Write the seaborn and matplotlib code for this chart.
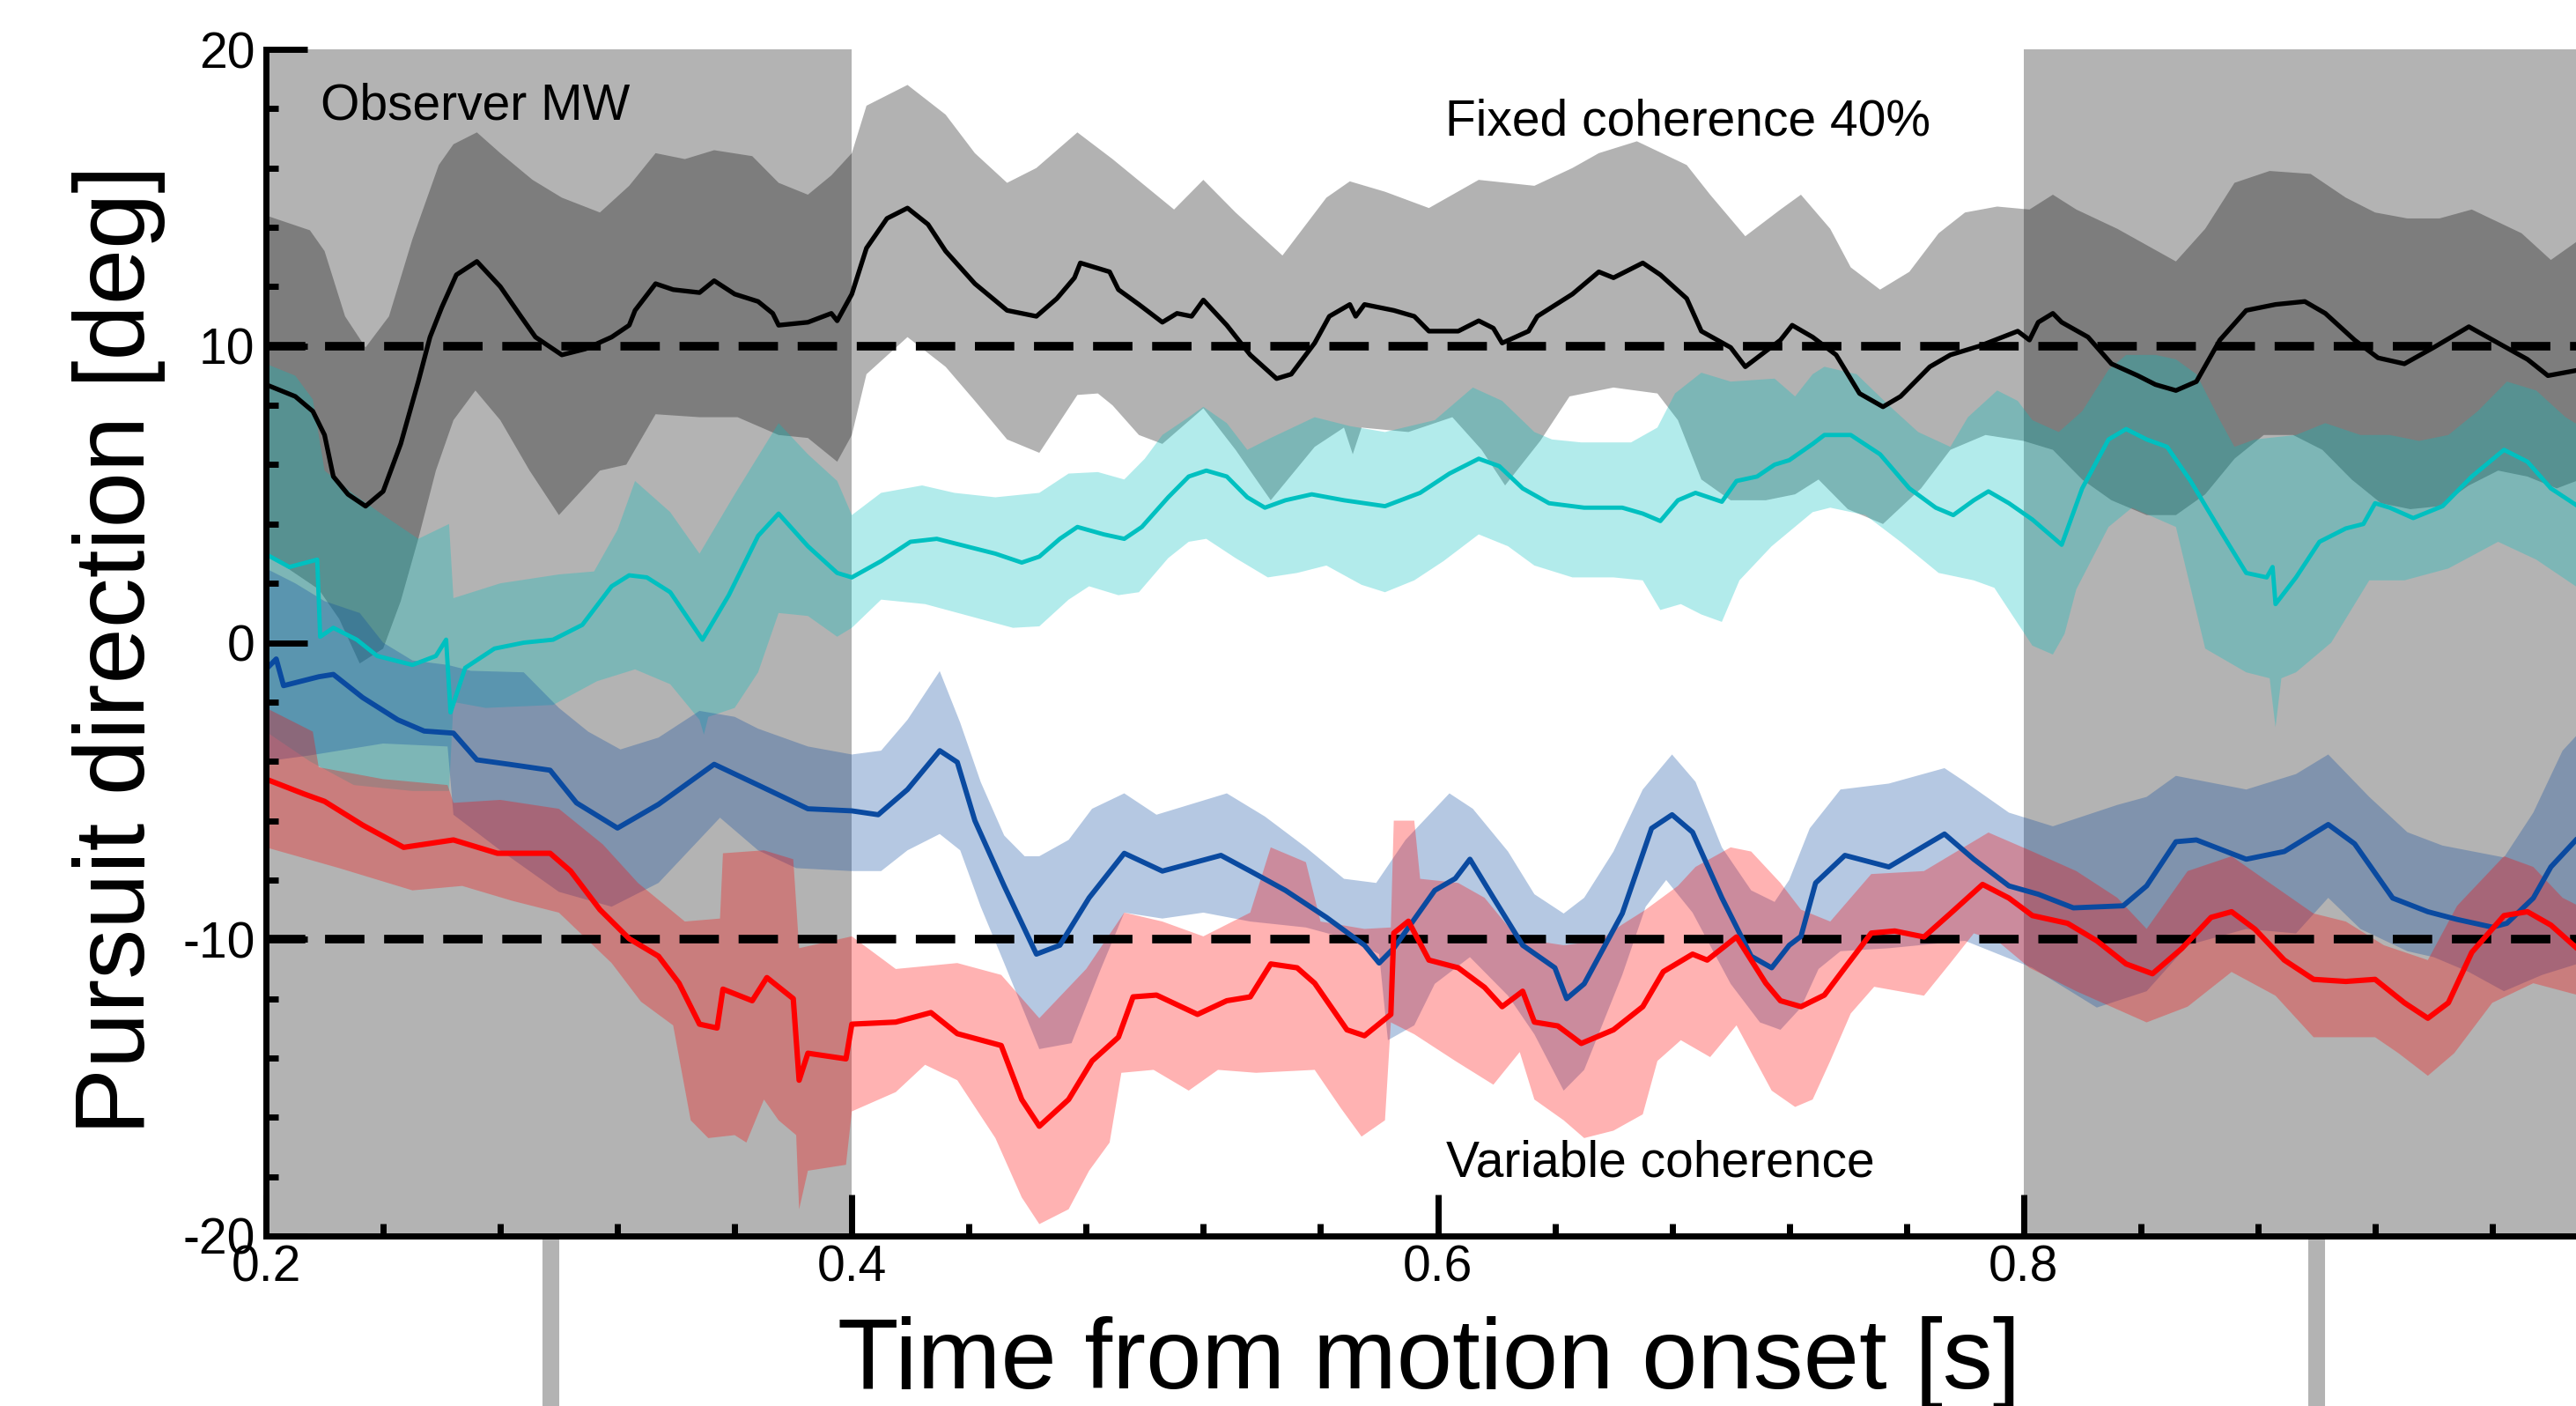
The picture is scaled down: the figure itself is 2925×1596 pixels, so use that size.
import numpy as np
import matplotlib
matplotlib.use("Agg")
import matplotlib.pyplot as plt
from matplotlib.ticker import MultipleLocator, FixedLocator
import seaborn as sns

# ---------------- data ----------------
# Fixed coherence 40% (black): mean and band edges
black_t = [0.200, 0.210, 0.216, 0.220, 0.223, 0.228, 0.234, 0.240, 0.246, 0.252, 0.256, 0.260,
           0.265, 0.272, 0.280, 0.287, 0.292, 0.301, 0.309, 0.318, 0.324, 0.326, 0.333, 0.339,
           0.348, 0.353, 0.360, 0.368, 0.373, 0.375, 0.385, 0.393, 0.395, 0.400, 0.405, 0.412,
           0.419, 0.426, 0.432, 0.442, 0.453, 0.463, 0.470, 0.476, 0.478, 0.488, 0.491, 0.498,
           0.506, 0.511, 0.516, 0.520, 0.528, 0.536, 0.545, 0.550, 0.558, 0.563, 0.570, 0.572,
           0.575, 0.585, 0.592, 0.597, 0.607, 0.614, 0.619, 0.622, 0.631, 0.634, 0.646, 0.655,
           0.660, 0.670, 0.676, 0.685, 0.690, 0.700, 0.705, 0.717, 0.721, 0.728, 0.736, 0.744,
           0.752, 0.758, 0.768, 0.775, 0.785, 0.798, 0.802, 0.805, 0.810, 0.813, 0.822, 0.830,
           0.839, 0.845, 0.852, 0.859, 0.867, 0.876, 0.886, 0.896, 0.903, 0.913, 0.921, 0.930,
           0.940, 0.952, 0.962, 0.972, 0.979, 0.990]
black_mean = [8.7, 8.3, 7.8, 7.0, 5.6, 5.0, 4.6, 5.1, 6.7, 8.8, 10.3, 11.3,
              12.4, 12.85, 12.0, 11.0, 10.3, 9.7, 9.9, 10.3, 10.7, 11.2, 12.1, 11.9,
              11.8, 12.2, 11.75, 11.5, 11.1, 10.7, 10.8, 11.1, 10.85, 11.75, 13.3, 14.3,
              14.65, 14.1, 13.2, 12.1, 11.2, 11.0, 11.6, 12.3, 12.8, 12.5, 11.9, 11.4,
              10.8, 11.1, 11.0, 11.55, 10.7, 9.7, 8.9, 9.05, 10.1, 11.0, 11.4, 11.0,
              11.4, 11.2, 11.0, 10.5, 10.5, 10.85, 10.6, 10.1, 10.5, 11.0, 11.75, 12.5,
              12.3, 12.8, 12.4, 11.6, 10.5, 9.95, 9.3, 10.2, 10.7, 10.3, 9.7, 8.4,
              7.95, 8.3, 9.3, 9.7, 10.0, 10.5, 10.2, 10.8, 11.1, 10.8, 10.3, 9.4,
              9.0, 8.7, 8.5, 8.8, 10.2, 11.2, 11.4, 11.5, 11.1, 10.2, 9.6, 9.4,
              9.95, 10.65, 10.1, 9.55, 9.0, 9.2]
black_hi_t = [0.200, 0.215, 0.220, 0.227, 0.234, 0.242, 0.250, 0.259, 0.264, 0.272, 0.280, 0.291,
              0.301, 0.314, 0.324, 0.333, 0.343, 0.353, 0.366, 0.375, 0.385, 0.393, 0.400, 0.405,
              0.419, 0.432, 0.442, 0.453, 0.463, 0.477, 0.489, 0.510, 0.520, 0.531, 0.547, 0.562,
              0.570, 0.582, 0.597, 0.614, 0.633, 0.646, 0.655, 0.668, 0.685, 0.693, 0.705, 0.717,
              0.724, 0.734, 0.741, 0.751, 0.761, 0.771, 0.780, 0.791, 0.802, 0.810, 0.818, 0.832,
              0.842, 0.852, 0.862, 0.872, 0.884, 0.898, 0.910, 0.920, 0.931, 0.942, 0.953, 0.970,
              0.980, 0.990]
black_hi = [14.4, 13.9, 13.2, 11.0, 9.95, 11.0, 13.6, 16.1, 16.8, 17.2, 16.5, 15.6,
            15.0, 14.5, 15.4, 16.5, 16.3, 16.6, 16.4, 15.5, 15.1, 15.75, 16.5, 18.1,
            18.8, 17.8, 16.5, 15.5, 16.0, 17.2, 16.3, 14.6, 15.6, 14.5, 13.05, 15.0,
            15.55, 15.2, 14.65, 15.6, 15.4, 16.0, 16.5, 16.9, 16.1, 15.1, 13.7, 14.6,
            15.1, 13.95, 12.65, 11.9, 12.5, 13.8, 14.5, 14.7, 14.6, 15.1, 14.6, 13.95,
            13.4, 12.85, 13.95, 15.5, 15.9, 15.8, 15.0, 14.5, 14.3, 14.3, 14.6, 13.8,
            12.9, 13.6]
black_lo_t = [0.200, 0.218, 0.225, 0.232, 0.240, 0.246, 0.252, 0.258, 0.264, 0.2715, 0.280, 0.290,
              0.300, 0.314, 0.323, 0.333, 0.348, 0.361, 0.375, 0.385, 0.395, 0.400, 0.405, 0.419,
              0.432, 0.442, 0.453, 0.464, 0.477, 0.484, 0.489, 0.498, 0.506, 0.520, 0.531, 0.543,
              0.558, 0.568, 0.571, 0.574, 0.590, 0.605, 0.615, 0.623, 0.635, 0.645, 0.660, 0.675,
              0.682, 0.690, 0.700, 0.712, 0.722, 0.730, 0.740, 0.752, 0.765, 0.775, 0.787, 0.800,
              0.810, 0.820, 0.830, 0.842, 0.852, 0.862, 0.872, 0.882, 0.892, 0.902, 0.912, 0.922,
              0.932, 0.942, 0.952, 0.962, 0.972, 0.982, 0.990]
black_lo = [3.0, 1.8, 0.8, -0.7, -0.2, 1.4, 3.5, 5.8, 7.5, 8.5, 7.5, 5.8,
            4.3, 5.8, 6.0, 7.7, 7.6, 7.6, 7.0, 6.9, 6.1, 7.0, 9.05, 10.3,
            9.3, 8.15, 6.85, 6.4, 8.35, 8.4, 8.0, 7.0, 6.7, 7.9, 6.5, 4.8,
            6.6, 7.25, 6.35, 7.25, 7.1, 7.6, 6.5, 5.3, 6.8, 8.3, 8.6, 8.4,
            7.5, 5.5, 4.8, 4.8, 5.0, 5.5, 4.5, 4.0, 5.2, 6.5, 7.0, 6.8,
            6.5, 5.5, 4.8, 4.3, 4.3, 5.0, 6.2, 7.0, 7.0, 6.5, 5.5, 4.7,
            4.5, 4.6, 5.3, 5.8, 5.6, 5.2, 5.5]

# Variable coherence, first condition (cyan)
cyan_t = [0.200, 0.208, 0.2175, 0.2185, 0.223, 0.231, 0.238, 0.250, 0.258, 0.2615, 0.263, 0.268,
          0.278, 0.288, 0.298, 0.308, 0.318, 0.324, 0.330, 0.338, 0.349, 0.358, 0.368, 0.375,
          0.385, 0.395, 0.400, 0.410, 0.420, 0.429, 0.439, 0.449, 0.458, 0.464, 0.471, 0.477,
          0.486, 0.493, 0.499, 0.508, 0.515, 0.521, 0.528, 0.535, 0.541, 0.548, 0.557, 0.568,
          0.582, 0.594, 0.604, 0.614, 0.621, 0.629, 0.638, 0.650, 0.663, 0.670, 0.676, 0.682,
          0.688, 0.697, 0.702, 0.709, 0.715, 0.720, 0.728, 0.732, 0.741, 0.751, 0.761, 0.770,
          0.776, 0.783, 0.788, 0.795, 0.803, 0.813, 0.820, 0.829, 0.835, 0.842, 0.849, 0.857,
          0.867, 0.876, 0.883, 0.885, 0.886, 0.893, 0.901, 0.910, 0.916, 0.920, 0.925, 0.933,
          0.943, 0.953, 0.964, 0.972, 0.980, 0.990]
cyan_mean = [2.98, 2.55, 2.8, 0.2, 0.5, 0.1, -0.45, -0.75, -0.45, 0.1, -2.35, -0.85,
             -0.2, 0.0, 0.1, 0.6, 1.9, 2.27, 2.2, 1.7, 0.1, 1.6, 3.6, 4.35,
             3.25, 2.35, 2.2, 2.75, 3.4, 3.5, 3.25, 3.0, 2.7, 2.9, 3.5, 3.9,
             3.65, 3.5, 3.9, 4.9, 5.6, 5.8, 5.6, 4.9, 4.55, 4.8, 5.0, 4.8,
             4.6, 5.05, 5.7, 6.2, 5.95, 5.2, 4.7, 4.55, 4.55, 4.35, 4.1, 4.8,
             5.05, 4.75, 5.45, 5.6, 6.0, 6.15, 6.7, 7.0, 7.0, 6.35, 5.2, 4.55,
             4.3, 4.8, 5.1, 4.7, 4.15, 3.3, 5.2, 6.85, 7.2, 6.85, 6.6, 5.45,
             3.8, 2.35, 2.2, 2.55, 1.3, 2.2, 3.4, 3.85, 4.0, 4.7, 4.55, 4.2,
             4.6, 5.6, 6.5, 6.1, 5.2, 4.55]
cyan_hi_t = [0.200, 0.210, 0.216, 0.220, 0.230, 0.240, 0.252, 0.2625, 0.264, 0.280, 0.300, 0.312,
             0.320, 0.326, 0.338, 0.348, 0.360, 0.375, 0.385, 0.395, 0.400, 0.410, 0.424, 0.435,
             0.449, 0.464, 0.474, 0.484, 0.493, 0.500, 0.506, 0.515, 0.520, 0.528, 0.535, 0.543,
             0.558, 0.570, 0.582, 0.599, 0.612, 0.622, 0.633, 0.639, 0.649, 0.666, 0.675, 0.681,
             0.690, 0.700, 0.715, 0.722, 0.728, 0.732, 0.743, 0.754, 0.764, 0.775, 0.781, 0.791,
             0.798, 0.803, 0.812, 0.820, 0.829, 0.835, 0.845, 0.852, 0.859, 0.867, 0.872, 0.879,
             0.893, 0.903, 0.915, 0.925, 0.935, 0.945, 0.955, 0.965, 0.975, 0.985, 0.990]
cyan_hi = [9.4, 9.0, 8.2, 5.8, 5.0, 4.3, 3.5, 4.0, 1.5, 2.0, 2.3, 2.4,
           3.8, 5.45, 4.4, 3.0, 5.0, 7.4, 6.35, 5.45, 4.3, 5.05, 5.3, 5.05,
           4.9, 5.05, 5.7, 5.75, 5.5, 6.2, 7.0, 7.6, 7.95, 7.4, 6.5, 6.9,
           7.6, 7.3, 7.1, 7.5, 8.6, 8.15, 7.1, 6.85, 6.75, 6.75, 7.25, 8.4,
           9.1, 8.8, 8.9, 8.3, 9.05, 9.3, 9.05, 8.0, 7.1, 6.6, 7.6, 8.5,
           8.15, 7.5, 7.1, 7.8, 9.2, 9.7, 9.7, 9.55, 9.05, 7.5, 6.6, 6.85,
           7.0, 7.4, 7.0, 7.0, 6.8, 7.0, 7.8, 8.8, 8.5, 7.6, 7.3]
cyan_lo_t = [0.200, 0.215, 0.230, 0.250, 0.2625, 0.264, 0.275, 0.298, 0.313, 0.326, 0.338, 0.348,
             0.3495, 0.351, 0.360, 0.368, 0.375, 0.385, 0.395, 0.400, 0.410, 0.425, 0.440, 0.455,
             0.464, 0.474, 0.481, 0.491, 0.498, 0.508, 0.515, 0.521, 0.531, 0.542, 0.552, 0.562,
             0.574, 0.582, 0.592, 0.602, 0.614, 0.624, 0.633, 0.646, 0.660, 0.670, 0.676, 0.683,
             0.690, 0.697, 0.703, 0.714, 0.728, 0.734, 0.746, 0.758, 0.771, 0.783, 0.790, 0.797,
             0.803, 0.810, 0.814, 0.818, 0.829, 0.837, 0.852, 0.862, 0.876, 0.884, 0.886, 0.888,
             0.893, 0.905, 0.918, 0.930, 0.945, 0.962, 0.975, 0.990]
cyan_lo = [-3.0, -4.0, -4.8, -5.0, -5.0, -2.0, -2.2, -2.1, -1.3, -0.9, -1.4, -2.6,
           -3.1, -2.5, -2.2, -1.0, 1.0, 0.9, 0.2, 0.5, 1.45, 1.3, 0.9, 0.5,
           0.55, 1.45, 1.9, 1.6, 1.7, 2.85, 3.4, 3.5, 2.85, 2.2, 2.35, 2.6,
           1.95, 1.7, 2.1, 2.75, 3.65, 3.25, 2.6, 2.2, 2.2, 2.1, 1.1, 1.3,
           0.95, 0.7, 2.1, 3.25, 4.4, 4.55, 4.3, 3.4, 2.35, 2.1, 1.85, 0.8,
           -0.1, -0.4, 0.3, 1.8, 3.9, 4.55, 3.9, -0.2, -1.0, -1.2, -2.85, -1.2,
           -1.0, 0.0, 2.1, 2.1, 2.5, 3.4, 2.8, 1.8]

# Variable coherence, second condition (blue)
blue_t = [0.200, 0.2035, 0.206, 0.218, 0.223, 0.233, 0.245, 0.254, 0.264, 0.272, 0.283, 0.297,
          0.306, 0.320, 0.334, 0.353, 0.368, 0.385, 0.400, 0.409, 0.419, 0.430, 0.436, 0.442,
          0.452, 0.463, 0.471, 0.481, 0.493, 0.506, 0.526, 0.536, 0.548, 0.562, 0.575, 0.580,
          0.585, 0.599, 0.606, 0.611, 0.619, 0.629, 0.640, 0.644, 0.650, 0.663, 0.673, 0.680,
          0.687, 0.697, 0.707, 0.714, 0.720, 0.724, 0.729, 0.739, 0.754, 0.773, 0.783, 0.795,
          0.805, 0.817, 0.834, 0.842, 0.852, 0.859, 0.876, 0.889, 0.904, 0.913, 0.926, 0.938,
          0.948, 0.960, 0.965, 0.974, 0.980, 0.990]
blue_mean = [-0.9, -0.55, -1.45, -1.15, -1.07, -1.85, -2.6, -2.98, -3.05, -3.95, -4.1, -4.3,
             -5.4, -6.25, -5.45, -4.1, -4.8, -5.6, -5.67, -5.8, -4.95, -3.64, -4.03, -6.0,
             -8.2, -10.5, -10.2, -8.6, -7.1, -7.7, -7.17, -7.7, -8.35, -9.26, -10.2, -10.8,
             -10.3, -8.35, -7.95, -7.3, -8.6, -10.2, -10.96, -12.0, -11.5, -9.13, -6.26, -5.8,
             -6.39, -8.6, -10.57, -10.96, -10.2, -9.9, -8.1, -7.17, -7.56, -6.45, -7.3, -8.2,
             -8.48, -8.94, -8.87, -8.2, -6.71, -6.65, -7.3, -7.04, -6.13, -6.78, -8.61, -9.07,
             -9.33, -9.59, -9.46, -8.61, -7.56, -6.5]
blue_hi_t = [0.200, 0.210, 0.220, 0.232, 0.240, 0.250, 0.262, 0.270, 0.288, 0.300, 0.310, 0.321,
             0.334, 0.348, 0.360, 0.368, 0.385, 0.400, 0.410, 0.419, 0.430, 0.437, 0.444, 0.452,
             0.459, 0.464, 0.474, 0.482, 0.493, 0.504, 0.515, 0.528, 0.541, 0.555, 0.568, 0.579,
             0.589, 0.604, 0.612, 0.624, 0.633, 0.643, 0.650, 0.660, 0.670, 0.680, 0.688, 0.697,
             0.707, 0.715, 0.720, 0.727, 0.7375, 0.754, 0.773, 0.780, 0.795, 0.810, 0.832, 0.842,
             0.852, 0.876, 0.893, 0.904, 0.918, 0.931, 0.943, 0.964, 0.974, 0.984, 0.990]
blue_hi = [2.5, 2.0, 1.4, 1.0, 0.0, -0.6, -0.75, -0.95, -1.0, -2.2, -3.0, -3.6,
           -3.2, -2.3, -2.5, -2.9, -3.5, -3.77, -3.64, -2.6, -0.96, -2.7, -4.7, -6.5,
           -7.2, -7.2, -6.65, -5.6, -5.08, -5.8, -5.47, -5.08, -5.86, -6.9, -7.96, -8.1,
           -6.65, -5.08, -5.6, -7.04, -8.48, -9.13, -8.6, -7.04, -4.95, -3.77, -4.69, -6.9,
           -8.35, -8.74, -8.0, -6.26, -4.95, -4.75, -4.23, -4.69, -5.73, -6.19, -5.47, -5.2,
           -4.49, -4.95, -4.43, -3.77, -5.2, -6.39, -6.84, -7.24, -5.73, -3.64, -3.0]
blue_lo_t = [0.200, 0.215, 0.240, 0.262, 0.264, 0.280, 0.300, 0.318, 0.334, 0.355, 0.368, 0.381,
             0.400, 0.410, 0.419, 0.430, 0.437, 0.444, 0.452, 0.464, 0.475, 0.485, 0.493, 0.506,
             0.520, 0.536, 0.555, 0.570, 0.580, 0.583, 0.592, 0.599, 0.611, 0.624, 0.633, 0.643,
             0.650, 0.663, 0.671, 0.678, 0.687, 0.700, 0.710, 0.717, 0.724, 0.730, 0.7375, 0.754,
             0.780, 0.803, 0.825, 0.842, 0.856, 0.876, 0.893, 0.904, 0.915, 0.931, 0.940, 0.952,
             0.964, 0.977, 0.990]
blue_lo = [-4.0, -3.8, -3.4, -3.5, -5.8, -7.0, -8.4, -8.9, -8.1, -5.9, -7.0, -7.6,
           -7.7, -7.7, -7.0, -6.45, -7.0, -8.9, -10.8, -13.7, -13.5, -11.0, -9.1, -9.3,
           -9.1, -9.4, -9.6, -10.0, -10.5, -13.4, -12.9, -11.5, -10.6, -11.9, -13.2, -15.1,
           -14.4, -11.2, -8.9, -8.0, -9.1, -11.5, -12.8, -13.05, -12.3, -11.0, -10.4, -10.3,
           -10.05, -10.96, -12.3, -11.75, -10.2, -9.65, -9.8, -8.6, -9.65, -10.4, -10.6, -11.1,
           -11.75, -11.2, -10.8]

# Variable coherence, third condition (red)
red_t = [0.200, 0.213, 0.220, 0.233, 0.247, 0.264, 0.279, 0.297, 0.304, 0.314, 0.324, 0.334,
         0.341, 0.348, 0.354, 0.356, 0.366, 0.371, 0.380, 0.382, 0.385, 0.398, 0.400, 0.415,
         0.427, 0.436, 0.451, 0.458, 0.464, 0.474, 0.482, 0.491, 0.496, 0.504, 0.518, 0.528,
         0.536, 0.543, 0.552, 0.558, 0.569, 0.575, 0.584, 0.585, 0.590, 0.597, 0.607, 0.616,
         0.622, 0.629, 0.633, 0.641, 0.649, 0.660, 0.670, 0.677, 0.687, 0.692, 0.702, 0.712,
         0.717, 0.724, 0.732, 0.739, 0.748, 0.756, 0.766, 0.775, 0.786, 0.795, 0.803, 0.815,
         0.825, 0.835, 0.844, 0.854, 0.864, 0.871, 0.879, 0.889, 0.899, 0.910, 0.920, 0.930,
         0.938, 0.945, 0.953, 0.964, 0.972, 0.980, 0.990]
red_mean = [-4.6, -5.1, -5.35, -6.15, -6.9, -6.65, -7.1, -7.1, -7.7, -9.0, -9.98, -10.57,
            -11.48, -12.86, -12.99, -11.68, -12.07, -11.29, -12.0, -14.75, -13.84, -14.03, -12.86, -12.79,
            -12.47, -13.18, -13.58, -15.4, -16.3, -15.4, -14.1, -13.3, -11.94, -11.88, -12.53, -12.07,
            -11.94, -10.83, -10.96, -11.48, -13.05, -13.25, -12.53, -9.79, -9.39, -10.7, -10.96, -11.62,
            -12.27, -11.75, -12.79, -12.92, -13.51, -13.05, -12.27, -11.09, -10.5, -10.7, -9.92, -11.48,
            -12.07, -12.27, -11.88, -10.96, -9.79, -9.72, -9.92, -9.13, -8.15, -8.61, -9.2, -9.46,
            -10.05, -10.83, -11.16, -10.31, -9.26, -9.07, -9.66, -10.7, -11.35, -11.42, -11.35, -12.14,
            -12.66, -12.14, -10.44, -9.2, -9.07, -9.52, -10.4]
red_hi_t = [0.200, 0.216, 0.218, 0.240, 0.262, 0.264, 0.280, 0.300, 0.315, 0.327, 0.343, 0.355,
            0.356, 0.370, 0.380, 0.382, 0.400, 0.415, 0.436, 0.451, 0.464, 0.480, 0.493, 0.506,
            0.520, 0.536, 0.543, 0.555, 0.560, 0.575, 0.584, 0.585, 0.592, 0.594, 0.607, 0.616,
            0.626, 0.633, 0.643, 0.655, 0.663, 0.671, 0.682, 0.688, 0.700, 0.707, 0.717, 0.724,
            0.734, 0.748, 0.766, 0.788, 0.803, 0.818, 0.832, 0.842, 0.856, 0.871, 0.884, 0.899,
            0.910, 0.923, 0.938, 0.948, 0.964, 0.974, 0.984, 0.990]
red_hi = [-2.2, -3.0, -4.2, -4.6, -4.8, -5.4, -5.3, -5.6, -6.8, -8.1, -9.4, -9.3,
          -7.1, -7.0, -7.3, -10.3, -9.9, -11.0, -10.8, -11.2, -12.66, -11.0, -9.1, -9.4,
          -9.9, -9.1, -6.9, -7.4, -9.4, -9.65, -9.6, -6.0, -6.0, -7.96, -8.1, -8.6,
          -9.8, -10.05, -10.2, -10.05, -9.5, -9.0, -8.2, -7.56, -6.9, -7.04, -8.1, -9.0,
          -9.4, -7.8, -7.7, -6.4, -7.04, -7.7, -8.6, -9.65, -7.7, -7.2, -8.1, -9.13,
          -9.4, -10.2, -10.7, -8.87, -7.2, -7.56, -8.6, -8.9]
red_lo_t = [0.200, 0.225, 0.250, 0.267, 0.284, 0.300, 0.318, 0.328, 0.339, 0.345, 0.351, 0.360,
            0.364, 0.370, 0.375, 0.381, 0.382, 0.385, 0.398, 0.400, 0.415, 0.425, 0.436, 0.449,
            0.458, 0.464, 0.474, 0.481, 0.488, 0.492, 0.503, 0.515, 0.525, 0.538, 0.558, 0.567,
            0.574, 0.582, 0.584, 0.592, 0.606, 0.619, 0.628, 0.633, 0.643, 0.650, 0.660, 0.670,
            0.675, 0.683, 0.693, 0.702, 0.714, 0.722, 0.728, 0.734, 0.741, 0.749, 0.766, 0.775,
            0.783, 0.791, 0.802, 0.818, 0.842, 0.856, 0.871, 0.886, 0.899, 0.920, 0.928, 0.938,
            0.947, 0.960, 0.974, 0.990]
red_lo = [-6.9, -7.6, -8.35, -8.2, -8.7, -9.1, -10.8, -12.1, -12.9, -16.1, -16.7, -16.6,
          -16.85, -15.4, -16.1, -16.6, -19.1, -17.8, -17.6, -15.8, -15.15, -14.23, -14.75, -16.7,
          -18.7, -19.6, -19.1, -17.8, -16.85, -14.5, -14.4, -15.1, -14.4, -14.5, -14.4, -15.7,
          -16.65, -16.1, -12.8, -13.2, -14.1, -14.9, -13.8, -15.4, -16.1, -16.7, -16.45, -15.9,
          -14.1, -13.4, -13.97, -12.9, -15.1, -15.65, -15.4, -14.1, -12.5, -11.6, -11.9, -10.8,
          -9.8, -10.05, -10.96, -11.75, -12.8, -12.27, -11.1, -11.9, -13.3, -13.3, -13.84, -14.6,
          -13.84, -12.14, -11.48, -11.9]

# analysis windows, reference directions, markers and labels
windows = [(0.2, 0.4), (0.8, 1.0)]
reference_dirs = [10, -10]
marker_times = [0.297, 0.9]
x_ticks = [0.2, 0.4, 0.6, 0.8]
x_ticklabels = ["0.2", "0.4", "0.6", "0.8"]
y_ticks = [-20, -10, 0, 10, 20]
y_ticklabels = ["-20", "-10", "0", "10", "20"]

# ---------------- style ----------------
sns.set_theme(style="ticks")
plt.rcParams["font.family"] = ["Liberation Sans", "DejaVu Sans"]
plt.rcParams["axes.unicode_minus"] = False
plt.rcParams["text.color"] = "black"
plt.rcParams["axes.labelcolor"] = "black"

SHADE = "#b3b3b3"
C_BLACK = "#000000"
C_CYAN = "#00c0c0"
C_BLUE = "#0a4aa0"
C_RED = "#ff0000"

fig = plt.figure(figsize=(29.25, 15.96), dpi=100)
ax = fig.add_axes([302 / 2925, 1 - 1403 / 1596, 2661 / 2925, 1347 / 1596])

for x0, x1 in windows:
    ax.axvspan(x0, x1, color=SHADE, lw=0, zorder=0)


def band(t_hi, hi, t_lo, lo, color):
    xs = np.concatenate([np.asarray(t_hi), np.asarray(t_lo)[::-1]])
    ys = np.concatenate([np.asarray(hi), np.asarray(lo)[::-1]])
    ax.fill(xs, ys, color=color, alpha=0.3, lw=0, zorder=1)


band(black_hi_t, black_hi, black_lo_t, black_lo, C_BLACK)
band(cyan_hi_t, cyan_hi, cyan_lo_t, cyan_lo, C_CYAN)
band(blue_hi_t, blue_hi, blue_lo_t, blue_lo, C_BLUE)
band(red_hi_t, red_hi, red_lo_t, red_lo, C_RED)

for yref in reference_dirs:
    ax.axhline(yref, color="black", lw=7, ls=(0, (4.6, 2.3)), zorder=2)

for t, y, c, w in [(black_t, black_mean, C_BLACK, 3.8), (cyan_t, cyan_mean, C_CYAN, 3.5),
                   (blue_t, blue_mean, C_BLUE, 4.2), (red_t, red_mean, C_RED, 4.4)]:
    sns.lineplot(x=t, y=y, ax=ax, color=c, lw=w, estimator=None, sort=False,
                 legend=False, zorder=3, solid_joinstyle="round")

# markers below the time axis
for tm in marker_times:
    ax.plot([tm, tm], [0, -0.2], transform=ax.get_xaxis_transform(), color=SHADE,
            lw=13.7, solid_capstyle="butt", clip_on=False, zorder=0)

ax.set_xlim(0.2, 1.0)
ax.set_ylim(-20, 20)
ax.xaxis.set_major_locator(FixedLocator(x_ticks))
ax.set_xticklabels(x_ticklabels)
ax.yaxis.set_major_locator(FixedLocator(y_ticks))
ax.set_yticklabels(y_ticklabels)
ax.xaxis.set_minor_locator(MultipleLocator(0.04))
ax.yaxis.set_minor_locator(MultipleLocator(2))
ax.set_axisbelow(False)

for side in ["top", "right"]:
    ax.spines[side].set_visible(False)
for side in ["left", "bottom"]:
    ax.spines[side].set_linewidth(5)
    ax.spines[side].set_color("black")
    ax.spines[side].set_zorder(4)

ax.tick_params(which="both", direction="in", color="black", width=5,
               top=False, right=False, labelcolor="black")
ax.tick_params(which="major", length=34, labelsize=41)
ax.tick_params(which="minor", length=10)
ax.tick_params(axis="x", which="major", pad=7)
ax.tick_params(axis="y", which="major", pad=9)
ax.set_xlabel("")
ax.set_ylabel("")

ax.text(0.2186, 18.07, "Observer MW", fontsize=41, ha="left", va="center",
        color="black", zorder=5)
ax.text(0.6855, 17.56, "Fixed coherence 40%", fontsize=41, ha="center", va="center",
        color="black", zorder=5)
ax.text(0.676, -17.56, "Variable coherence", fontsize=41, ha="center", va="center",
        color="black", zorder=5)

fig.text(1623 / 2925, 1 - 1576 / 1596, "Time from motion onset [s]", fontsize=82,
         ha="center", va="baseline", color="black")
fig.text(164 / 2925, 1 - 737 / 1596, "Pursuit direction [deg]", fontsize=82,
         ha="center", va="baseline", rotation=90, rotation_mode="anchor", color="black")

fig.savefig("out.png", dpi=100)
